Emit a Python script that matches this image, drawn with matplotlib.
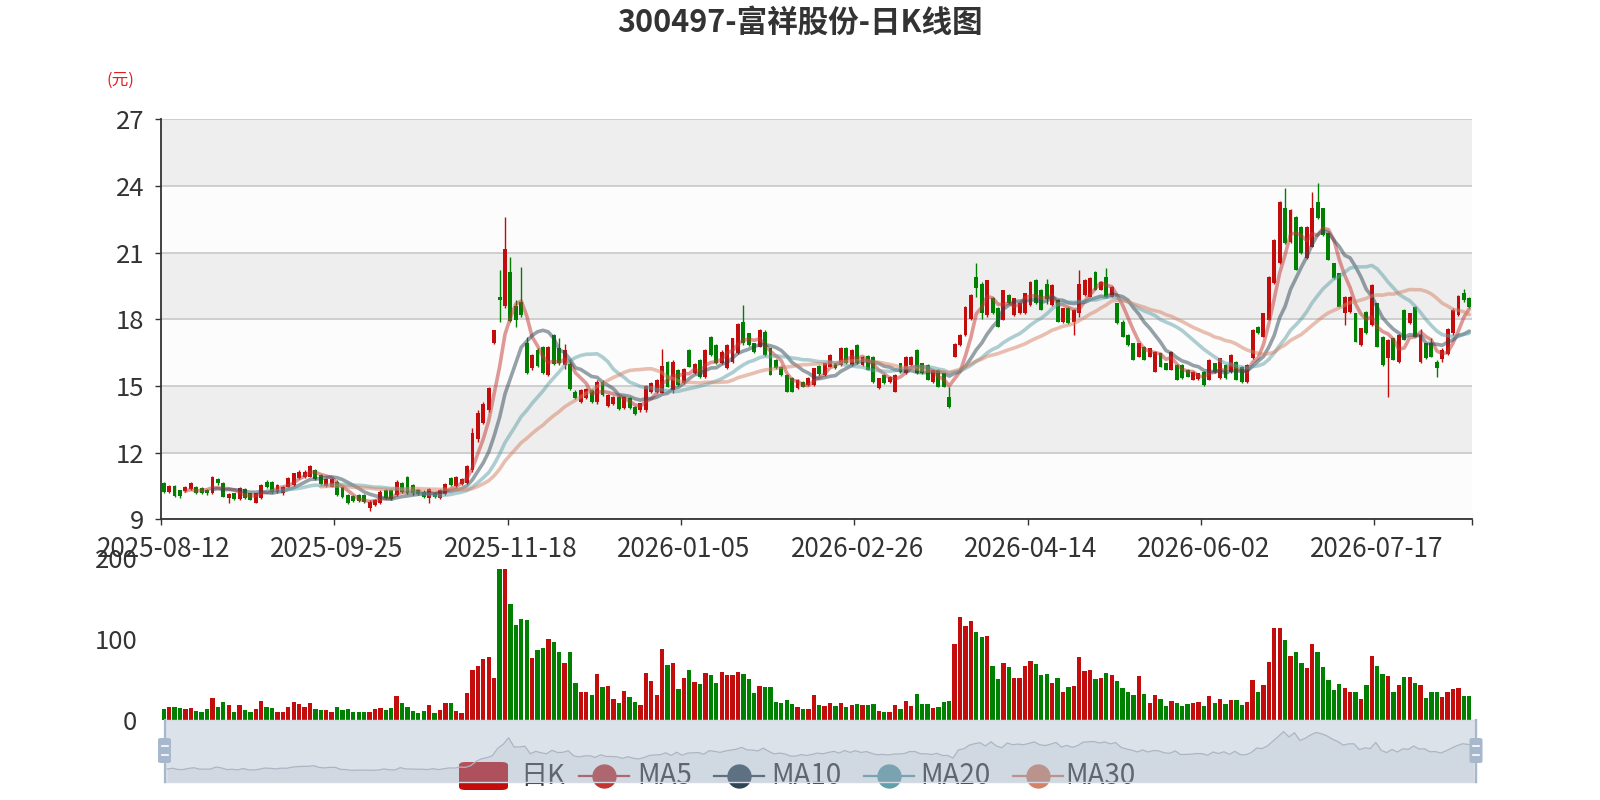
import numpy as np
import matplotlib
matplotlib.use("Agg")
import matplotlib.pyplot as plt
from matplotlib.patches import FancyBboxPatch
from matplotlib.lines import Line2D

plt.rcParams['font.family'] = ['Noto Sans CJK SC', 'DejaVu Sans']

# ---------------- data ----------------
title = "300497-富祥股份-日K线图"
unit_label = "(元)"
tick_labels = ['2025-08-12', '2025-09-25', '2025-11-18', '2026-01-05',
               '2026-02-26', '2026-04-14', '2026-06-02', '2026-07-17']
label_every = 32

opens = [10.62, 10.24, 10.50, 10.30, 10.29, 10.35, 10.47, 10.40, 10.32, 10.20,
         10.80, 10.65, 9.95, 10.17, 9.90, 10.35, 10.17, 9.75, 9.95, 10.70,
         10.70, 10.25, 10.17, 10.47, 10.55, 10.85, 10.90, 10.92, 11.20, 11.00,
         10.50, 10.47, 10.70, 10.47, 10.10, 10.05, 10.10, 10.10, 9.50, 9.65,
         9.72, 10.32, 10.32, 10.10, 10.65, 10.90, 10.55, 10.30, 10.25, 9.95,
         10.20, 9.98, 10.15, 10.85, 10.50, 10.60, 10.65, 11.20, 12.60, 13.35,
         13.90, 16.95, 19.02, 18.60, 20.15, 18.60, 18.80, 16.92, 15.80, 16.62,
         16.77, 15.50, 17.30, 16.70, 15.95, 16.00, 14.75, 14.30, 14.45, 14.82,
         14.30, 15.20, 14.10, 14.20, 14.50, 14.00, 14.45, 14.07, 13.90, 13.90,
         14.75, 14.75, 14.70, 16.10, 14.80, 15.72, 15.15, 16.62, 15.60, 16.17,
         15.40, 17.22, 16.85, 16.02, 15.80, 16.10, 16.47, 17.90, 17.37, 16.92,
         16.77, 17.45, 16.70, 16.17, 15.87, 15.50, 15.35, 14.90, 15.20, 15.05,
         15.05, 15.90, 15.50, 15.87, 16.02, 15.95, 16.70, 15.95, 16.85, 15.95,
         16.35, 16.32, 14.90, 15.50, 15.20, 14.75, 16.02, 15.57, 15.95, 16.62,
         16.02, 15.95, 15.20, 15.72, 15.57, 14.52, 16.30, 16.85, 17.30, 18.00,
         19.92, 19.60, 18.20, 18.95, 18.50, 17.97, 19.10, 18.20, 18.27, 18.27,
         18.65, 19.77, 19.32, 19.60, 18.65, 18.87, 17.90, 18.50, 17.90, 18.30,
         19.10, 19.02, 20.15, 19.32, 19.90, 19.02, 18.72, 17.90, 17.30, 16.92,
         16.32, 16.77, 16.32, 15.65, 16.47, 16.02, 15.72, 15.95, 15.95, 15.72,
         15.27, 15.30, 15.65, 15.27, 16.02, 15.35, 15.95, 15.65, 16.10, 15.87,
         15.20, 16.25, 17.67, 17.22, 17.97, 19.62, 20.52, 23.00, 21.50, 22.62,
         22.17, 20.75, 21.27, 23.30, 22.99, 21.87, 20.52, 20.07, 18.30, 18.35,
         18.27, 16.85, 18.35, 17.75, 18.72, 17.22, 16.25, 17.15, 16.10, 18.42,
         17.82, 18.57, 16.10, 16.92, 16.92, 16.10, 16.20, 16.45, 17.40, 18.20,
         19.20, 18.95]
closes = [10.25, 10.50, 10.05, 10.05, 10.47, 10.65, 10.17, 10.20, 10.18, 10.92,
          10.62, 10.02, 10.15, 9.90, 10.40, 9.95, 9.87, 10.17, 10.55, 10.47,
          10.25, 10.55, 10.47, 10.85, 11.07, 11.15, 11.15, 11.40, 10.80, 10.60,
          10.80, 10.80, 10.10, 10.02, 9.75, 9.84, 9.84, 9.80, 9.80, 9.87,
          10.25, 9.95, 9.90, 10.70, 10.25, 10.20, 10.17, 10.15, 10.02, 10.35,
          10.02, 10.32, 10.60, 10.55, 10.90, 10.80, 11.40, 12.90, 13.80, 14.20,
          14.90, 17.50, 18.87, 21.15, 17.94, 17.95, 18.20, 15.57, 16.40, 15.90,
          15.57, 16.77, 16.00, 16.05, 16.62, 14.85, 14.45, 14.80, 14.85, 14.30,
          15.20, 14.60, 14.60, 14.50, 13.95, 14.52, 14.00, 13.75, 14.22, 15.00,
          15.15, 15.25, 15.90, 14.97, 16.10, 15.05, 15.77, 15.87, 16.00, 15.40,
          16.62, 16.40, 16.02, 16.55, 16.85, 17.15, 17.80, 16.92, 16.85, 16.55,
          17.52, 16.40, 15.50, 15.80, 15.50, 14.75, 14.75, 15.27, 14.97, 15.35,
          15.80, 15.55, 16.02, 16.40, 15.80, 16.70, 16.02, 16.62, 16.02, 16.32,
          15.72, 15.20, 15.35, 15.12, 15.42, 15.50, 15.65, 16.32, 16.32, 15.57,
          15.57, 15.27, 15.72, 14.97, 14.97, 14.07, 16.90, 17.30, 18.57, 19.10,
          19.40, 18.30, 19.75, 18.27, 17.67, 19.30, 18.72, 18.95, 18.72, 19.17,
          19.70, 18.72, 18.42, 18.90, 19.55, 17.90, 18.50, 17.82, 18.42, 19.60,
          19.77, 19.85, 19.32, 19.70, 19.02, 19.47, 17.82, 17.22, 16.85, 16.17,
          16.92, 16.17, 16.70, 16.55, 15.87, 15.72, 16.55, 15.27, 15.35, 15.42,
          15.65, 15.57, 15.05, 16.17, 15.65, 16.25, 15.35, 16.40, 15.27, 15.20,
          15.95, 17.52, 17.37, 18.27, 19.92, 21.57, 23.30, 21.42, 22.92, 20.22,
          20.97, 22.17, 23.00, 22.55, 21.80, 20.67, 19.85, 18.57, 19.02, 19.02,
          17.00, 17.60, 17.37, 19.55, 16.77, 15.95, 17.07, 16.17, 17.30, 17.07,
          18.27, 17.22, 17.30, 16.25, 16.32, 15.80, 16.60, 17.55, 18.40, 19.05,
          18.85, 18.55]
highs = [10.70, 10.55, 10.55, 10.32, 10.50, 10.70, 10.50, 10.45, 10.35, 10.95,
         10.85, 10.70, 10.20, 10.20, 10.45, 10.40, 10.20, 10.20, 10.60, 10.75,
         10.72, 10.60, 10.50, 10.90, 11.10, 11.20, 11.20, 11.45, 11.25, 11.05,
         10.85, 10.85, 10.75, 10.50, 10.15, 10.10, 10.15, 10.12, 9.85, 9.90,
         10.30, 10.35, 10.35, 10.75, 10.70, 10.95, 10.60, 10.35, 10.30, 10.40,
         10.25, 10.38, 10.65, 10.90, 10.95, 10.85, 11.45, 13.10, 13.92, 14.30,
         14.97, 17.52, 20.22, 22.62, 20.80, 18.87, 20.37, 17.22, 16.45, 16.70,
         16.80, 16.80, 17.35, 17.15, 16.90, 16.20, 14.80, 14.85, 14.90, 14.85,
         15.27, 15.27, 14.65, 14.55, 14.55, 14.55, 14.50, 14.10, 14.25, 15.05,
         15.20, 15.30, 16.65, 16.12, 16.17, 15.75, 15.80, 16.65, 16.02, 16.20,
         16.65, 17.25, 16.90, 16.60, 16.90, 17.17, 17.82, 18.65, 17.40, 16.95,
         17.55, 17.50, 16.72, 16.20, 15.90, 15.52, 15.40, 15.30, 15.22, 15.40,
         15.82, 15.95, 16.05, 16.45, 16.05, 16.75, 16.75, 16.65, 16.90, 16.35,
         16.40, 16.35, 15.38, 15.52, 15.45, 15.52, 16.05, 16.35, 16.35, 16.65,
         16.05, 16.00, 15.75, 15.75, 15.60, 14.97, 16.95, 17.35, 18.60, 19.12,
         20.52, 19.70, 19.77, 19.00, 18.55, 19.32, 19.12, 18.97, 18.75, 19.20,
         19.72, 19.80, 19.35, 19.80, 19.60, 18.90, 18.52, 18.55, 18.45, 20.22,
         19.80, 19.90, 20.17, 19.72, 20.30, 19.50, 18.75, 17.95, 17.32, 16.95,
         16.95, 16.80, 16.72, 16.57, 16.50, 16.05, 16.57, 16.00, 15.97, 15.75,
         15.67, 15.60, 15.67, 16.20, 16.05, 16.27, 16.00, 16.42, 16.12, 15.90,
         15.97, 17.55, 17.70, 18.30, 19.95, 21.60, 23.32, 23.90, 22.95, 22.65,
         22.20, 22.20, 23.75, 24.12, 23.00, 21.90, 20.55, 20.10, 19.05, 19.05,
         18.30, 17.62, 18.37, 19.57, 18.75, 17.25, 17.10, 17.17, 17.32, 18.45,
         18.30, 18.60, 17.55, 16.95, 17.15, 16.17, 16.70, 17.60, 18.50, 19.10,
         19.35, 19.00]
lows = [10.20, 10.20, 10.00, 9.98, 10.25, 10.30, 10.15, 10.15, 10.10, 10.15,
        10.55, 10.00, 9.72, 9.85, 9.88, 9.90, 9.85, 9.72, 9.90, 10.40,
        10.20, 10.20, 10.10, 10.45, 10.50, 10.80, 10.85, 10.90, 10.75, 10.55,
        10.45, 10.45, 10.05, 9.95, 9.70, 9.80, 9.80, 9.75, 9.37, 9.60,
        9.70, 9.90, 9.88, 10.05, 10.20, 10.15, 10.10, 10.10, 9.98, 9.73,
        9.98, 9.92, 10.10, 10.50, 10.45, 10.55, 10.60, 11.15, 12.50, 13.30,
        13.85, 16.90, 17.90, 18.50, 17.90, 17.67, 18.10, 15.55, 15.72, 15.85,
        15.55, 15.45, 15.95, 15.95, 15.75, 14.80, 14.40, 14.25, 14.40, 14.25,
        14.20, 14.55, 14.05, 14.15, 13.90, 13.95, 13.95, 13.70, 13.85, 13.85,
        14.70, 14.70, 14.67, 14.95, 14.67, 15.00, 15.10, 15.85, 15.55, 15.35,
        15.35, 16.35, 16.00, 16.00, 15.75, 16.05, 16.45, 16.85, 16.80, 16.50,
        16.75, 16.35, 15.48, 15.75, 15.45, 14.72, 14.72, 14.85, 14.95, 15.00,
        15.00, 15.45, 15.45, 15.85, 15.75, 15.90, 16.00, 15.90, 16.00, 15.90,
        15.70, 15.15, 14.85, 15.10, 15.15, 14.72, 15.60, 15.55, 15.90, 15.55,
        15.55, 15.25, 15.15, 14.95, 14.95, 14.00, 16.30, 16.80, 17.25, 17.95,
        19.00, 18.00, 18.10, 18.25, 17.65, 17.95, 18.70, 18.15, 18.25, 18.25,
        18.60, 18.70, 18.40, 18.70, 18.60, 17.88, 17.85, 17.80, 17.30, 18.10,
        19.05, 19.00, 19.30, 19.30, 19.00, 19.00, 17.80, 17.20, 16.82, 16.15,
        16.30, 16.15, 16.30, 15.62, 15.85, 15.70, 15.70, 15.25, 15.32, 15.40,
        15.25, 15.25, 15.02, 15.25, 15.60, 15.32, 15.32, 15.60, 15.25, 15.15,
        15.15, 16.20, 17.35, 17.20, 17.95, 19.60, 20.50, 21.40, 21.45, 20.20,
        20.95, 20.70, 21.25, 22.50, 21.75, 20.65, 19.80, 18.55, 17.75, 18.30,
        16.97, 16.80, 17.35, 17.70, 16.75, 15.90, 14.52, 16.15, 16.05, 17.05,
        17.80, 17.20, 16.05, 16.20, 16.30, 15.39, 16.10, 16.40, 17.30, 18.15,
        18.80, 18.50]
volumes = [13.6, 15.6, 16.4, 15.2, 13.6, 14.8, 11.5, 9.5, 13.2, 27.0,
           16.4, 22.0, 19.0, 9.5, 18.0, 12.3, 9.5, 13.6, 23.0, 15.6,
           14.8, 9.5, 9.5, 16.4, 22.0, 19.8, 16.4, 21.4, 13.6, 12.3,
           12.3, 9.5, 15.6, 12.3, 13.6, 9.5, 10.3, 9.5, 9.5, 13.6,
           14.8, 12.3, 14.8, 30.0, 21.4, 15.6, 11.0, 8.2, 11.0, 18.5,
           9.0, 12.3, 20.6, 20.6, 11.5, 9.0, 33.0, 61.7, 66.7, 75.0,
           78.2, 52.3, 186.0, 186.0, 143.0, 117.0, 125.0, 124.0, 76.0, 86.0,
           88.5, 99.6, 96.7, 83.5, 70.0, 84.3, 46.0, 34.6, 34.6, 30.4,
           56.4, 41.1, 42.0, 25.5, 20.6, 36.2, 28.0, 22.2, 18.5, 58.4,
           48.1, 30.4, 87.6, 67.9, 70.0, 38.3, 51.4, 61.7, 47.3, 44.4,
           57.6, 55.1, 45.2, 59.6, 55.5, 56.0, 58.8, 56.8, 50.2, 32.9,
           42.0, 41.1, 40.3, 22.6, 21.0, 25.0, 19.7, 16.5, 14.0, 13.0,
           30.4, 18.5, 17.3, 20.6, 17.7, 20.6, 16.5, 18.5, 19.7, 18.1,
           18.5, 19.3, 11.0, 10.0, 10.0, 18.1, 13.1, 23.4, 17.7, 31.7,
           20.1, 19.3, 14.8, 15.6, 21.8, 23.0, 93.4, 127.6, 116.0, 121.8,
           108.6, 102.4, 103.7, 66.6, 50.2, 70.0, 65.8, 51.4, 51.4, 66.6,
           72.8, 69.1, 55.5, 56.4, 45.2, 51.4, 35.0, 40.3, 42.0, 77.8,
           60.5, 61.7, 51.0, 51.8, 57.6, 55.5, 48.1, 39.5, 34.6, 30.8,
           54.3, 32.5, 21.4, 30.4, 25.5, 17.7, 23.4, 20.6, 16.9, 19.7,
           20.6, 21.8, 17.3, 29.6, 21.4, 26.3, 19.7, 24.3, 25.1, 18.1,
           22.2, 49.0, 34.6, 42.8, 71.6, 113.2, 113.2, 98.8, 79.0, 83.5,
           70.4, 64.6, 94.2, 83.5, 65.4, 49.4, 37.0, 44.0, 39.5, 34.1,
           34.1, 25.9, 43.2, 79.0, 66.6, 57.2, 53.9, 34.1, 43.2, 53.1,
           53.1, 46.1, 42.8, 27.1, 34.1, 34.1, 28.0, 35.0, 38.0, 40.0,
           30.0, 30.0]

ma_windows = [5, 10, 20, 30]
ma_names = ['MA5', 'MA10', 'MA20', 'MA30']
ma_colors = ['#c23531', '#2f4554', '#61a0a8', '#d48265']
up_color = '#c30d0d'
down_color = '#008000'

# ---------------- helpers ----------------
W, H = 1600, 800
def fx(x):
    return x / W
def fy(y):
    return 1 - y / H

o = np.array(opens); c = np.array(closes); hi = np.array(highs); lo = np.array(lows)
vol = np.array(volumes)
M = len(c)
xs = np.arange(M)
is_up = c >= o
colors = np.where(is_up, up_color, down_color)

fig = plt.figure(figsize=(16, 8), dpi=100)
fig.patch.set_facecolor('white')

# ---------------- price panel ----------------
ax = fig.add_axes([fx(161), fy(519.3), 1311 / W, 400 / H])
ax.set_xlim(-0.5, M - 0.5)
ax.set_ylim(9, 27)
yt = np.arange(9, 28, 3)
for k, b in enumerate(yt[:-1]):
    ax.axhspan(b, b + 3, color='#fcfcfc' if k % 2 == 0 else '#eeeeee', lw=0, zorder=0)
ax.set_yticks(yt)
ax.set_axisbelow(True)
ax.yaxis.grid(True, color='#c8c8c8', lw=1.2)
ax.xaxis.grid(False)
for s in ['top', 'right']:
    ax.spines[s].set_visible(False)
for s in ['left', 'bottom']:
    ax.spines[s].set_color('#333333')
    ax.spines[s].set_linewidth(1.3)
    ax.spines[s].set_zorder(6)
ax.tick_params(axis='y', length=4, width=1, color='#333333', labelsize=18.5,
               labelcolor='#333333', pad=8)
lab_idx = [k * label_every for k in range(len(tick_labels))]
ax.set_xticks(lab_idx)
ax.set_xticklabels(tick_labels)
ax.set_xticks([i - 0.5 for i in lab_idx] + [M - 0.5], minor=True)
ax.tick_params(axis='x', which='major', length=0, labelsize=18.8, labelcolor='#333333', pad=12)
ax.tick_params(axis='x', which='minor', length=4, width=1, color='#333333')

body_h = np.maximum(np.abs(c - o), 0.03)
ax.vlines(xs, lo, hi, colors=colors, lw=1.0, zorder=3)
ax.bar(xs, body_h, bottom=np.minimum(o, c), width=0.72, color=colors, lw=0, zorder=3)

for n, col in zip(ma_windows, ma_colors):
    ma = np.full(M, np.nan)
    for i in range(n - 1, M):
        ma[i] = c[i - n + 1:i + 1].mean()
    ax.plot(xs, ma, color=col, lw=2.6, alpha=0.5, zorder=4, solid_capstyle='round',
            solid_joinstyle='round')

# ---------------- volume panel ----------------
axv = fig.add_axes([fx(161), fy(720), 1311 / W, 162 / H])
axv.set_xlim(-0.5, M - 0.5)
axv.set_ylim(0, 200)
axv.bar(xs, vol, width=0.8, color=colors, lw=0)
axv.set_yticks([0, 100, 200])
for s in axv.spines.values():
    s.set_visible(False)
axv.set_xticks([])
axv.tick_params(axis='y', length=0, labelsize=18.5, labelcolor='#333333', pad=17)
axv.patch.set_alpha(0)

# ---------------- legend (drawn under the slider) ----------------
leg_y = 776
fig.add_artist(FancyBboxPatch((fx(459), fy(790)), 49 / W, 28 / H,
                              boxstyle="round,pad=0,rounding_size=0.004",
                              transform=fig.transFigure, facecolor=up_color,
                              edgecolor='none', zorder=5))
fig.text(fx(520), fy(leg_y), '日K', fontsize=19.5, color='#333333', ha='left',
         va='center', zorder=5)
leg_icons = [(579, 637), (714, 771), (864, 920), (1013, 1065)]
for (x0, tx), name, col in zip(leg_icons, ma_names, ma_colors):
    fig.add_artist(Line2D([fx(x0), fx(x0 + 50)], [fy(leg_y), fy(leg_y)],
                          transform=fig.transFigure, color=col, lw=1.6, zorder=5))
    fig.add_artist(Line2D([fx(x0 + 25)], [fy(leg_y)], transform=fig.transFigure,
                          marker='o', ms=16.5, color=col, mec=col, zorder=5))
    fig.text(fx(tx), fy(leg_y), name, fontsize=20, color='#333333', ha='left',
             va='center', zorder=5)

# ---------------- data zoom slider ----------------
axs = fig.add_axes([fx(164.5), fy(782), 1311.5 / W, 62 / H], zorder=10)
axs.set_xlim(-0.5, M - 0.5)
rng = c.max() - c.min()
ylo, yhi = c.min() - 0.3 * rng, c.max() + 0.3 * rng
axs.set_ylim(ylo, yhi)
axs.patch.set_facecolor((167 / 255, 183 / 255, 204 / 255, 0.4))
axs.fill_between(xs, c, ylo, color=(0.35, 0.4, 0.5, 0.08), lw=0)
axs.plot(xs, c, color='#aeb5c2', lw=0.9)
axs.set_xticks([]); axs.set_yticks([])
for s in axs.spines.values():
    s.set_color('#d6dbe3'); s.set_linewidth(1)

for hx in (164.5, 1476):
    fig.add_artist(Line2D([fx(hx), fx(hx)], [fy(720), fy(782)], transform=fig.transFigure,
                          color='#a7b7cc', lw=1.6, zorder=11))
    fig.add_artist(FancyBboxPatch((fx(hx - 6.5), fy(763)), 13 / W, 25 / H,
                                  boxstyle="round,pad=0,rounding_size=0.002",
                                  transform=fig.transFigure, facecolor='#a7b7cc',
                                  edgecolor='none', zorder=11))
    for dy in (746, 755):
        fig.add_artist(Line2D([fx(hx - 3), fx(hx + 3)], [fy(dy), fy(dy)],
                              transform=fig.transFigure, color='white', lw=1.2, zorder=12))

# ---------------- titles ----------------
fig.text(0.5, fy(22.5), title, fontsize=22, fontweight='bold', color='#333333',
         ha='center', va='center')
fig.text(fx(120), fy(80), unit_label, fontsize=12, color='#e02020', ha='center', va='center')

fig.savefig('out.png', dpi=100)
